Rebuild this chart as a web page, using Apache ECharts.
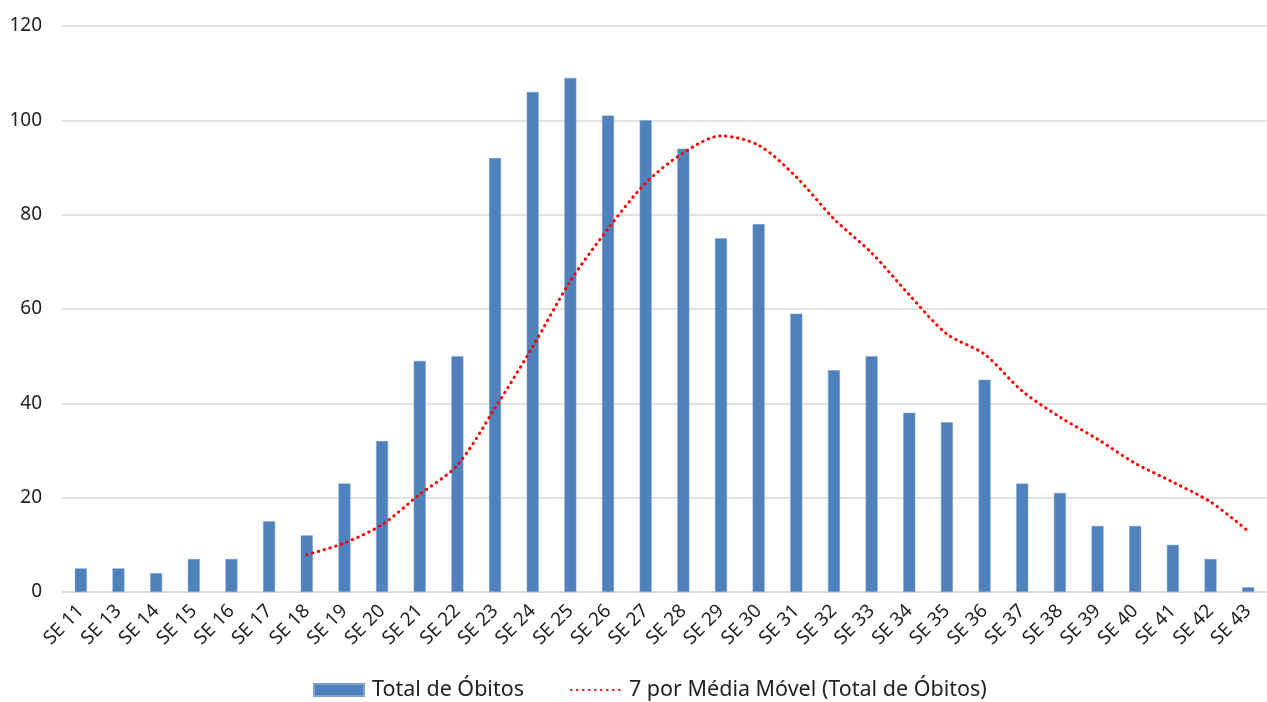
<!DOCTYPE html>
<html>
<head>
<meta charset="utf-8">
<script src="https://cdn.jsdelivr.net/npm/echarts@6/dist/echarts.min.js"></script>
<style>
html,body{margin:0;padding:0;background:#fff;}
#chart{width:1267px;height:702px;}
</style>
</head>
<body>
<div id="chart"></div>
<script>
const categories = ['SE 11','SE 13','SE 14','SE 15','SE 16','SE 17','SE 18','SE 19','SE 20','SE 21','SE 22','SE 23','SE 24','SE 25','SE 26','SE 27','SE 28','SE 29','SE 30','SE 31','SE 32','SE 33','SE 34','SE 35','SE 36','SE 37','SE 38','SE 39','SE 40','SE 41','SE 42','SE 43'];
const totalObitos = [5,5,4,7,7,15,12,23,32,49,50,92,106,109,101,100,94,75,78,59,47,50,38,36,45,23,21,14,14,10,7,1];
const mediaMovel = [null,null,null,null,null,null,7.9,10.4,14.3,20.7,26.9,39,52,65.9,77,86.7,93.1,96.7,94.7,88,79.1,71.9,63,54.7,50.4,42.6,37.1,32.4,27.3,23.3,19.1,12.9];
const yTicks = [0,20,40,60,80,100,120];

const chart = echarts.init(document.getElementById('chart'));
const font = 'Noto Sans, Liberation Sans, sans-serif';
chart.setOption({
  animation: false,
  grid: {left: 62, right: -11, top: 26, bottom: 110, containLabel: false},
  legend: {
    bottom: -4, left: 308,
    itemWidth: 50, itemHeight: 12, itemGap: 46,
    textStyle: {fontSize: 21.5, color: '#222', fontFamily: font, padding: [0, 0, 0, 3]},
    data: [
      {name: 'Total de Óbitos', icon: 'rect'},
      {name: '7 por Média Móvel (Total de Óbitos)', itemStyle: {opacity: 0}}
    ]
  },
  xAxis: {
    type: 'category',
    data: categories,
    axisLine: {lineStyle: {color: '#d9d9d9', width: 1.5}},
    axisTick: {show: false},
    axisLabel: {rotate: 45, fontSize: 19, color: '#222', fontFamily: font, interval: 0, margin: 16}
  },
  yAxis: {
    type: 'value', min: yTicks[0], max: yTicks[yTicks.length-1], interval: 20,
    axisLine: {show: false},
    axisTick: {show: false},
    axisLabel: {fontSize: 19, color: '#222', fontFamily: font, margin: 20},
    splitLine: {lineStyle: {color: '#d9d9d9', width: 1.5}}
  },
  series: [
    {
      name: 'Total de Óbitos', type: 'bar', data: totalObitos,
      barWidth: 12,
      itemStyle: {color: '#4F81BD', borderColor: '#7fa3d0', borderWidth: 0.5}
    },
    {
      name: '7 por Média Móvel (Total de Óbitos)', type: 'line', data: mediaMovel,
      smooth: 0.3, symbol: 'none', connectNulls: false,
      lineStyle: {color: '#FF0000', width: 3, type: [0.5, 5.5], cap: 'round'},
      itemStyle: {color: '#FF0000'}
    }
  ]
});
</script>
</body>
</html>
